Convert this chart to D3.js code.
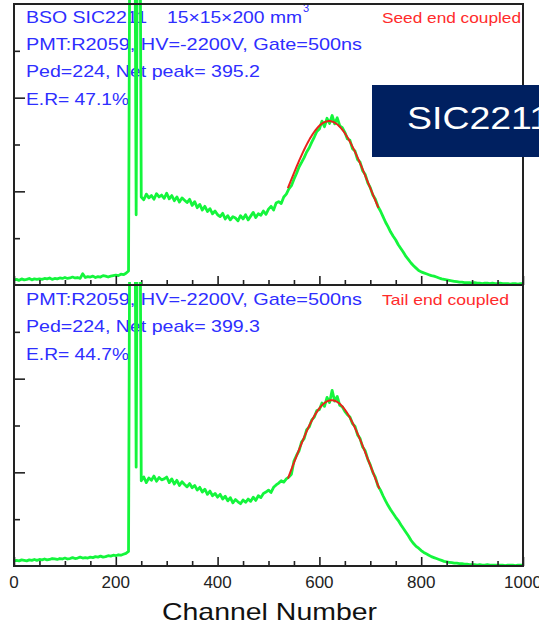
<!DOCTYPE html>
<html>
<head>
<meta charset="utf-8">
<script src="https://cdn.jsdelivr.net/npm/d3@7"></script>
<style>
  body { margin: 0; background: #fff; }
  svg { display: block; font-family: Arial, "Liberation Sans", sans-serif; }
</style>
</head>
<body>
<svg id="chart" width="539" height="624"></svg>
<script>
'use strict';

// bins are 5 channels wide, starting at channel 0
const channelStep = 5;

// seed end coupled (top panel), counts per bin
const seedCounts = [
  11, 12, 10, 13, 11, 12, 14, 11, 13, 12,
  13, 12, 14, 13, 15, 12, 14, 13, 15, 14,
  16, 14, 15, 17, 15, 16, 14, 24, 16, 18,
  17, 19, 16, 18, 17, 20, 19, 17, 19, 20,
  21, 20, 23, 22, 25, 30, 1500, 1500, 150, 1500,
  188, 182, 194, 186, 191, 183, 195, 188, 192, 185,
  196, 184, 191, 180, 188, 177, 186, 181, 176, 183,
  170, 178, 165, 172, 160, 168, 157, 163, 152, 158,
  150, 146, 153, 141, 148, 139, 146, 143, 137, 148,
  141, 150, 139, 147, 155, 144, 152, 149, 158, 151,
  162, 168, 160, 175, 178, 174, 188, 194, 205, 212,
  226, 238, 252, 262, 272, 284, 293, 305, 316, 328,
  333, 350, 338, 356, 345, 362, 344, 357, 340, 336,
  326, 312, 309, 291, 286, 268, 262, 244, 236, 218,
  208, 192, 183, 168, 158, 146, 134, 124, 113, 104,
  96, 86, 78, 70, 61, 54, 47, 41, 36, 31,
  28, 26, 24, 22, 20, 19, 17, 15, 13, 12,
  11, 10, 9, 8, 7, 6, 6, 5, 5, 5,
  4, 5, 4, 4, 3, 4, 4, 3, 4, 3,
  3, 4, 3, 3, 3, 2, 3, 3, 2, 3,
  3
];

// tail end coupled (bottom panel), counts per bin
const tailCounts = [
  11, 12, 11, 13, 12, 11, 13, 12, 14, 12,
  14, 13, 15, 13, 14, 16, 15, 14, 16, 15,
  17, 15, 16, 18, 16, 17, 19, 17, 18, 17,
  19, 18, 20, 19, 21, 19, 20, 22, 21, 23,
  22, 24, 23, 25, 27, 31, 1500, 1500, 211, 1500,
  182, 190, 178, 188, 183, 192, 181, 189, 184, 186,
  190, 178, 186, 175, 183, 172, 180, 174, 169, 176,
  167, 172, 162, 168, 158, 164, 153, 160, 150, 155,
  147, 153, 143, 149, 139, 146, 135, 142, 137, 133,
  141, 136, 143, 138, 147, 140, 150, 146, 155, 158,
  162, 157, 168, 173, 177, 182, 179, 186, 190, 196,
  224, 236, 246, 265, 272, 291, 297, 312, 318, 332,
  334, 348, 341, 360, 349, 375, 352, 362, 343, 340,
  330, 323, 318, 304, 298, 280, 272, 254, 246, 228,
  216, 200, 189, 171, 162, 150, 139, 129, 120, 112,
  104, 97, 88, 80, 72, 64, 55, 48, 42, 38,
  33, 29, 26, 23, 20, 18, 16, 14, 12, 10,
  9, 8, 7, 6, 6, 5, 5, 4, 4, 3,
  3, 3, 2, 3, 2, 2, 3, 2, 2, 2,
  2, 2, 2, 1, 2, 2, 2, 1, 2, 2,
  2
];

// gaussian fits: [mean, sigma, amplitude], fitted channel range
const seedFit = [619, 79, 350];
const seedFitRange = [538, 716];
const tailFit = [624, 76, 354];
const tailFitRange = [538, 718];

const xTicksMajor = [0, 200, 400, 600, 800, 1000];
const xTicksMinor = [50, 100, 150, 250, 300, 350, 450, 500, 550, 650, 700, 750, 850, 900, 950];
const yTicksMajor = [200, 400];
const yTicksMinor = [100, 300, 500];

const seedLabels = [
  'PMT:R2059, HV=-2200V, Gate=500ns',
  'Ped=224, Net peak= 395.2',
  'E.R= 47.1%',
];
const tailLabels = [
  'PMT:R2059, HV=-2200V, Gate=500ns',
  'Ped=224, Net peak= 399.3',
  'E.R= 44.7%',
];

const svg = d3.select('#chart');

const left = 14;
const right = 523;
const panels = [
  { top: 4, bottom: 285, counts: seedCounts, fit: seedFit, range: seedFitRange },
  { top: 285, bottom: 566, counts: tailCounts, fit: tailFit, range: tailFitRange },
];

const x = d3.scaleLinear().domain([0, 1000]).range([left, right]);

const blue = '#2e2eff';
const red = '#ff2b2b';
const green = '#14f53c';

const addText = (str, tx, ty, size, color, len) => {
  const t = svg
    .append('text')
    .attr('x', tx)
    .attr('y', ty)
    .attr('font-size', size)
    .attr('fill', color)
    .text(str);
  if (len) {
    t.attr('textLength', len).attr('lengthAdjust', 'spacingAndGlyphs');
  }
  return t;
};

// labels go under the curves
addText('BSO SIC2211', 26, 23, 17, blue, 121);
addText('15×15×200 mm', 167, 23, 17, blue, 135);
addText('3', 303, 12, 11, blue);
addText(seedLabels[0], 26, 50, 17, blue, 336);
addText(seedLabels[1], 26, 77, 17, blue, 234);
addText(seedLabels[2], 26, 105, 17, blue, 103);
addText('Seed end coupled', 382, 23, 15, red, 139);

addText(tailLabels[0], 26, 305, 17, blue, 336);
addText(tailLabels[1], 26, 332, 17, blue, 234);
addText(tailLabels[2], 26, 360, 17, blue, 103);
addText('Tail end coupled', 382, 305, 15, red, 127);

const defs = svg.append('defs');

// each tick set needs its own group, a second axis call on a group replaces its ticks
const tickGroup = (transform, axis) =>
  svg.append('g').attr('transform', transform).call(axis);

panels.forEach((p, k) => {
  const y = d3.scaleLinear().domain([0, 600]).range([p.bottom, p.top]);

  // the top panel spike runs off the page, the bottom one stops at the divider
  const clipTop = k === 0 ? 0 : p.top - 3;
  defs
    .append('clipPath')
    .attr('id', 'clip' + k)
    .append('rect')
    .attr('x', left)
    .attr('y', clipTop)
    .attr('width', right - left)
    .attr('height', p.bottom - clipTop);

  const line = d3
    .line()
    .x((d, i) => x(i * channelStep))
    .y((d) => y(d));

  svg
    .append('path')
    .attr('clip-path', 'url(#clip' + k + ')')
    .attr('d', line(p.counts))
    .attr('fill', 'none')
    .attr('stroke', green)
    .attr('stroke-width', 2.8)
    .attr('stroke-linejoin', 'round');

  const [mean, sigma, amp] = p.fit;
  const gauss = (c) => amp * Math.exp(-((c - mean) ** 2) / (2 * sigma * sigma));
  const fitPts = d3.range(p.range[0], p.range[1] + 1, 2);

  svg
    .append('path')
    .attr(
      'd',
      d3
        .line()
        .x((c) => x(c))
        .y((c) => y(gauss(c)))(fitPts)
    )
    .attr('fill', 'none')
    .attr('stroke', '#e8231c')
    .attr('stroke-width', 2);

  // inward ticks on the bottom and left edges
  const bx = `translate(0,${p.bottom})`;
  const ly = `translate(${left},0)`;
  tickGroup(bx, d3.axisBottom(x).tickValues(xTicksMinor).tickSize(-5).tickFormat(''));
  tickGroup(bx, d3.axisBottom(x).tickValues(xTicksMajor).tickSize(-9).tickFormat(''));
  tickGroup(ly, d3.axisLeft(y).tickValues(yTicksMinor).tickSize(-6).tickFormat(''));
  tickGroup(ly, d3.axisLeft(y).tickValues(yTicksMajor).tickSize(-11).tickFormat(''));
});

svg.selectAll('.domain').remove();
svg.selectAll('.tick line').attr('stroke', '#222').attr('stroke-width', 1.6);

// frame
svg
  .append('rect')
  .attr('x', left)
  .attr('y', 4)
  .attr('width', right - left)
  .attr('height', 566 - 4)
  .attr('fill', 'none')
  .attr('stroke', '#222')
  .attr('stroke-width', 2);
svg
  .append('line')
  .attr('x1', left)
  .attr('x2', right)
  .attr('y1', 285)
  .attr('y2', 285)
  .attr('stroke', '#222')
  .attr('stroke-width', 2);

// tick labels
svg
  .append('g')
  .selectAll('text')
  .data(xTicksMajor)
  .join('text')
  .attr('x', (d) => x(d))
  .attr('y', 588)
  .attr('text-anchor', 'middle')
  .attr('font-size', 17)
  .attr('fill', '#222')
  .text((d) => d);

addText('Channel Number', 162, 620, 24, '#111', 215);

// slide title box
svg
  .append('rect')
  .attr('x', 372)
  .attr('y', 85)
  .attr('width', 180)
  .attr('height', 72)
  .attr('fill', '#002060');
addText('SIC2211', 407, 129, 31, '#fff', 143);
</script>
</body>
</html>
